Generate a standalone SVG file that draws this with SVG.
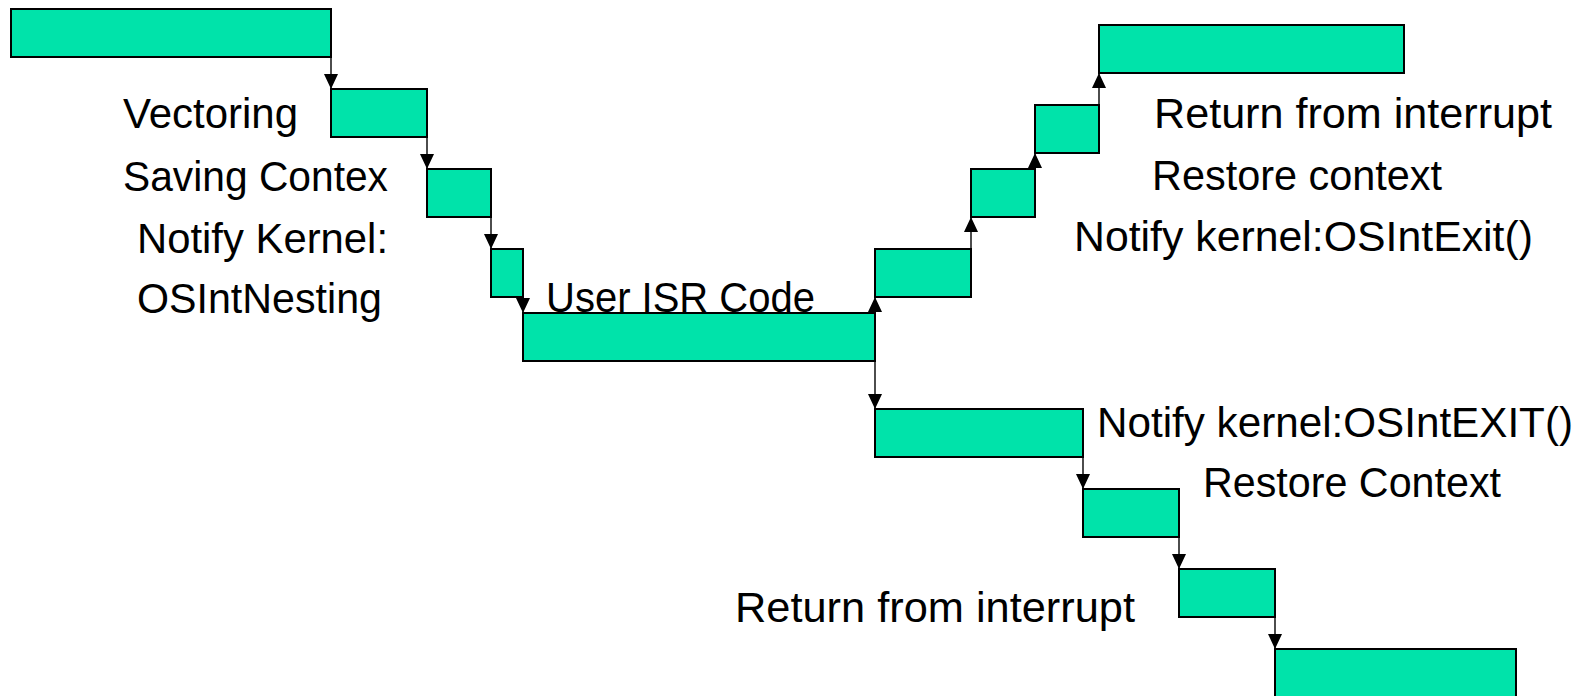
<svg xmlns="http://www.w3.org/2000/svg" width="1592" height="696" viewBox="0 0 1592 696">
  <style>
    .blk { fill: #00E3AA; stroke: #000; stroke-width: 2; }
    .lnk { fill: none; stroke: #000; stroke-width: 1.4; marker-end: url(#tip); }
    .lbl { font-family: "Liberation Sans", Arial, sans-serif; font-size: 42px; fill: #000; }
  </style>
  <defs>
    <marker id="tip" markerUnits="userSpaceOnUse" markerWidth="15" markerHeight="14" viewBox="0 0 15 14" refX="15" refY="7" orient="auto">
      <path d="M0,0 L15,7 L0,14 z" fill="#000"/>
    </marker>
  </defs>

  <rect width="1592" height="696" fill="#fff"/>

  <!-- entry path: task → vectoring → save → notify → ISR -->
  <g id="task-before"><rect class="blk" x="11" y="9" width="320" height="48"/></g>
  <g id="vectoring"><rect class="blk" x="331" y="89" width="96" height="48"/>
    <text class="lbl" x="123" y="128" textLength="175" lengthAdjust="spacingAndGlyphs">Vectoring</text></g>
  <g id="saving-context"><rect class="blk" x="427" y="169" width="64" height="48"/>
    <text class="lbl" x="123" y="191" textLength="265" lengthAdjust="spacingAndGlyphs">Saving Contex</text></g>
  <g id="notify-enter"><rect class="blk" x="491" y="249" width="32" height="48"/>
    <text class="lbl" x="137" y="253" textLength="251" lengthAdjust="spacingAndGlyphs">Notify Kernel:</text>
    <text class="lbl" x="137" y="313" textLength="245" lengthAdjust="spacingAndGlyphs">OSIntNesting</text></g>
  <g id="user-isr"><rect class="blk" x="523" y="313" width="352" height="48"/>
    <text class="lbl" x="546" y="312" textLength="269" lengthAdjust="spacingAndGlyphs">User ISR Code</text></g>

  <!-- upper exit path: back to the interrupted task -->
  <g id="notify-exit-a"><rect class="blk" x="875" y="249" width="96" height="48"/>
    <text class="lbl" x="1074" y="251" textLength="459" lengthAdjust="spacingAndGlyphs">Notify kernel:OSIntExit()</text></g>
  <g id="restore-a"><rect class="blk" x="971" y="169" width="64" height="48"/>
    <text class="lbl" x="1152" y="190" textLength="290" lengthAdjust="spacingAndGlyphs">Restore context</text></g>
  <g id="return-a"><rect class="blk" x="1035" y="105" width="64" height="48"/>
    <text class="lbl" x="1154" y="128" textLength="398" lengthAdjust="spacingAndGlyphs">Return from interrupt</text></g>
  <g id="task-resumed"><rect class="blk" x="1099" y="25" width="305" height="48"/></g>

  <!-- lower exit path: switch to a higher priority task -->
  <g id="notify-exit-b"><rect class="blk" x="875" y="409" width="208" height="48"/>
    <text class="lbl" x="1097" y="437" textLength="476" lengthAdjust="spacingAndGlyphs">Notify kernel:OSIntEXIT()</text></g>
  <g id="restore-b"><rect class="blk" x="1083" y="489" width="96" height="48"/>
    <text class="lbl" x="1203" y="497" textLength="298" lengthAdjust="spacingAndGlyphs">Restore Context</text></g>
  <g id="return-b"><rect class="blk" x="1179" y="569" width="96" height="48"/>
    <text class="lbl" x="735" y="622" textLength="400" lengthAdjust="spacingAndGlyphs">Return from interrupt</text></g>
  <g id="task-new"><rect class="blk" x="1275" y="649" width="241" height="60"/></g>

  <g id="connectors">
    <path class="lnk" d="M331,57 V89"/>
    <path class="lnk" d="M427,137 V169"/>
    <path class="lnk" d="M491,217 V249"/>
    <path class="lnk" d="M523,297 V313"/>
    <path class="lnk" d="M875,313 V297"/>
    <path class="lnk" d="M971,249 V217"/>
    <path class="lnk" d="M1035,169 V153"/>
    <path class="lnk" d="M1099,105 V73"/>
    <path class="lnk" d="M875,361 V409"/>
    <path class="lnk" d="M1083,457 V489"/>
    <path class="lnk" d="M1179,537 V569"/>
    <path class="lnk" d="M1275,617 V649"/>
  </g>
</svg>
